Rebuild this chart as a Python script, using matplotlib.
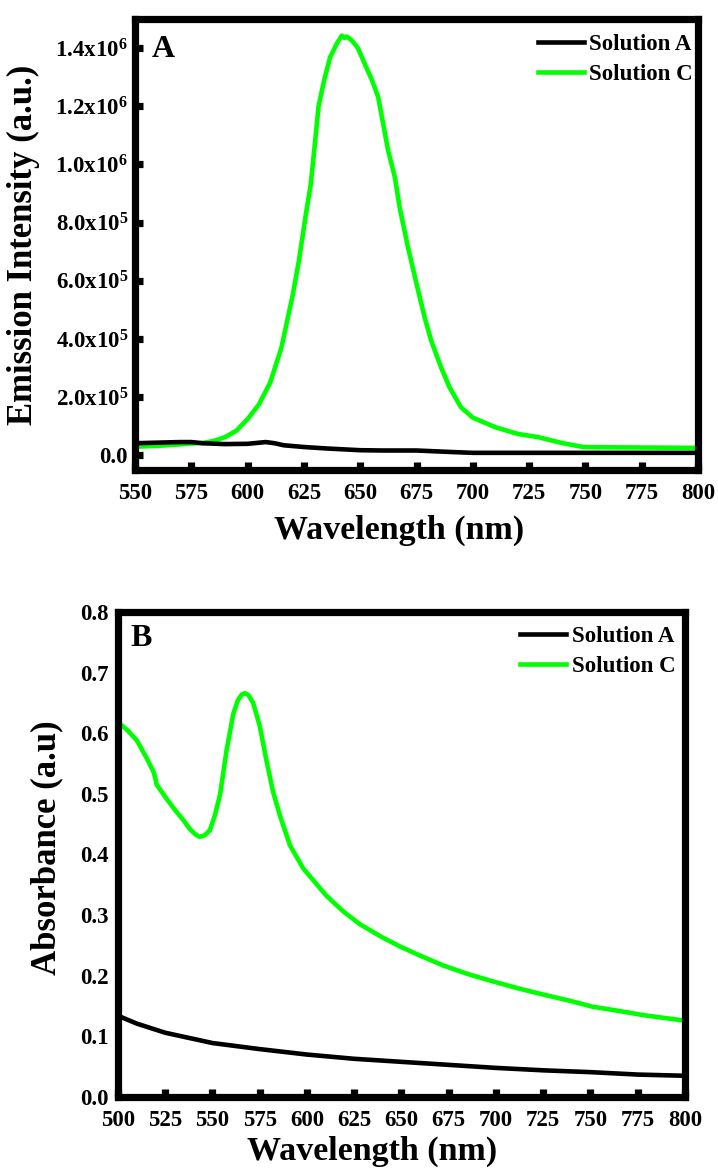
import numpy as np
import matplotlib
matplotlib.use("Agg")
import matplotlib.pyplot as plt
import matplotlib as mpl
from matplotlib.ticker import FixedLocator

# ======================
# 全局绘图风格
# ======================
mpl.rcParams["font.family"] = ["Liberation Serif", "DejaVu Serif"]
mpl.rcParams["font.weight"] = "bold"
mpl.rcParams["axes.labelweight"] = "bold"
mpl.rcParams["mathtext.fontset"] = "custom"
mpl.rcParams["mathtext.rm"] = "Liberation Serif:bold"
mpl.rcParams["mathtext.bf"] = "Liberation Serif:bold"
mpl.rcParams["mathtext.it"] = "Liberation Serif:bold"
mpl.rcParams["axes.unicode_minus"] = False

# ======================
# 数据 (A: emission)
# ======================
em_wl_a = [550, 560, 570, 575, 580, 590, 600, 608, 612, 616, 625, 635,
           650, 660, 675, 690, 700, 750, 800]
em_sol_a = [4.2e4, 4.4e4, 4.6e4, 4.6e4, 4.2e4, 3.9e4, 4.0e4, 4.6e4, 4.2e4,
            3.5e4, 2.9e4, 2.4e4, 1.8e4, 1.7e4, 1.7e4, 1.2e4, 9e3, 9e3, 9e3]

em_wl_c = [550, 560, 570, 575, 580, 585, 590, 595, 600, 605, 610, 615, 620,
           622.8, 625.7, 628, 630, 631.5, 634, 636.7, 639.6, 641.8, 643, 644,
           646.3, 649, 652, 655, 658, 659.5, 662.4, 665.4, 667.5, 671.2, 675,
           678.6, 681.5, 685.9, 689.6, 694.7, 700, 710, 720, 729, 740, 749,
           760, 780, 800]
em_sol_c = [3.0e4, 3.3e4, 3.8e4, 4.1e4, 4.3e4, 5.0e4, 6.3e4, 8.5e4, 1.25e5,
            1.75e5, 2.5e5, 3.7e5, 5.5e5, 6.7e5, 8.2e5, 9.3e5, 1.08e6, 1.2e6,
            1.29e6, 1.37e6, 1.415e6, 1.443e6, 1.435e6, 1.44e6, 1.426e6, 1.40e6,
            1.346e6, 1.294e6, 1.231e6, 1.168e6, 1.048e6, 0.956e6, 0.853e6,
            0.716e6, 0.59e6, 0.475e6, 0.395e6, 0.303e6, 0.235e6, 0.166e6,
            0.13e6, 0.097e6, 0.074e6, 0.063e6, 0.042e6, 0.029e6, 0.028e6,
            0.027e6, 0.026e6]

em_yticks = [0, 2e5, 4e5, 6e5, 8e5, 1.0e6, 1.2e6, 1.4e6]
em_yticklabels = ["0.0", "2.0x10$^5$", "4.0x10$^5$", "6.0x10$^5$",
                  "8.0x10$^5$", "1.0x10$^6$", "1.2x10$^6$", "1.4x10$^6$"]
em_xticks = [550, 575, 600, 625, 650, 675, 700, 725, 750, 775, 800]

# ======================
# 数据 (B: absorbance)
# ======================
ab_wl_a = [500, 510, 525, 550, 575, 600, 625, 650, 675, 700, 725, 750, 775, 800]
ab_sol_a = [0.134, 0.121, 0.106, 0.089, 0.079, 0.070, 0.063, 0.058, 0.053,
            0.048, 0.044, 0.041, 0.037, 0.035]

ab_wl_c = [500, 505, 510, 515, 519, 520.5, 525, 530, 535, 538, 541, 543.3,
           546, 548.6, 551.3, 554, 557.4, 561, 563.5, 565.5, 567.2, 569,
           571.5, 575, 578.6, 582, 585.6, 591, 598, 604, 610, 615, 620, 628,
           640, 650, 660, 672, 685, 698, 712, 725, 740, 751, 765, 778, 790, 800]
ab_sol_c = [0.618, 0.605, 0.588, 0.560, 0.535, 0.515, 0.495, 0.474, 0.455,
            0.442, 0.433, 0.429, 0.432, 0.440, 0.465, 0.499, 0.571, 0.632,
            0.655, 0.664, 0.666, 0.663, 0.650, 0.612, 0.554, 0.504, 0.465,
            0.415, 0.377, 0.355, 0.333, 0.318, 0.304, 0.285, 0.263, 0.247,
            0.233, 0.217, 0.203, 0.191, 0.179, 0.169, 0.158, 0.149, 0.142,
            0.135, 0.130, 0.126]

ab_yticks = [0.0, 0.1, 0.2, 0.3, 0.4, 0.5, 0.6, 0.7, 0.8]
ab_yticklabels = ["0.0", "0.1", "0.2", "0.3", "0.4", "0.5", "0.6", "0.7", "0.8"]
ab_ymarks = [0.2, 0.4, 0.6]
ab_xticks = [500, 525, 550, 575, 600, 625, 650, 675, 700, 725, 750, 775, 800]

labels = ["Solution A", "Solution C"]
colors = ["#000000", "#00FF00"]

# ======================
# 建图
# ======================
W, H = 718, 1172
fig = plt.figure(figsize=(W / 100, H / 100), dpi=100)

def box(l, t, r, b):
    return [l / W, 1 - b / H, (r - l) / W, (b - t) / H]

ax1 = fig.add_axes(box(135, 19, 698, 470))
ax2 = fig.add_axes(box(118, 612, 685, 1097))

spine_w = 5.2
line_w = 3.3

def style_axes(ax):
    for s in ax.spines.values():
        s.set_linewidth(spine_w)
        s.set_capstyle("projecting")
    ax.tick_params(axis="both", which="both", direction="in",
                   top=False, right=False, length=5.5, width=5.2,
                   labelsize=16.5, pad=5)

# ======================
# (A) emission
# ======================
ax1.plot(em_wl_a, em_sol_a, color=colors[0], lw=line_w, label=labels[0], zorder=3)
ax1.plot(em_wl_c, em_sol_c, color=colors[1], lw=line_w, label=labels[1], zorder=2)
ax1.set_xlim(550, 800)
ax1.set_ylim(-5e4, 1.5e6)
ax1.set_xticks(em_xticks)
ax1.set_yticks(em_yticks)
ax1.set_yticklabels(em_yticklabels)
style_axes(ax1)
ax1.tick_params(axis="x", pad=9)

ax1.set_xlabel("Wavelength (nm)", fontsize=24.5)
ax1.set_ylabel("Emission Intensity (a.u.)", fontsize=25)
ax1.xaxis.set_label_coords(0.469, -0.1)
ax1.yaxis.set_label_coords(-0.168, 0.5)
ax1.text(0.03, 0.965, "A", transform=ax1.transAxes, fontsize=23,
         ha="left", va="top")

ax1.legend(loc="upper right", bbox_to_anchor=(0.991, 0.967), frameon=False,
           fontsize=16.5, handlelength=2.0, handletextpad=0.25,
           labelspacing=0.4, borderpad=0, borderaxespad=0)

# ======================
# (B) absorbance
# ======================
ax2.plot(ab_wl_a, ab_sol_a, color=colors[0], lw=line_w, label=labels[0], zorder=3)
ax2.plot(ab_wl_c, ab_sol_c, color=colors[1], lw=line_w, label=labels[1], zorder=2)
ax2.set_xlim(500, 800)
ax2.set_ylim(0, 0.8)
ax2.set_xticks(ab_xticks)
ax2.set_yticks(ab_yticks)
ax2.set_yticklabels(ab_yticklabels)
ax2.yaxis.set_minor_locator(FixedLocator(ab_ymarks))
style_axes(ax2)
ax2.tick_params(axis="y", which="major", length=0, pad=6.5)
ax2.tick_params(axis="x", pad=9)

ax2.set_xlabel("Wavelength (nm)", fontsize=24.5)
ax2.set_ylabel("Absorbance (a.u)", fontsize=25)
ax2.xaxis.set_label_coords(0.448, -0.08)
ax2.yaxis.set_label_coords(-0.097, 0.514)
ax2.text(0.022, 0.975, "B", transform=ax2.transAxes, fontsize=23,
         ha="left", va="top")

ax2.legend(loc="upper right", bbox_to_anchor=(0.984, 0.972), frameon=False,
           fontsize=16.5, handlelength=2.0, handletextpad=0.28,
           labelspacing=0.42, borderpad=0, borderaxespad=0)

# ======================
# 保存
# ======================
plt.savefig("out.png", dpi=100)
